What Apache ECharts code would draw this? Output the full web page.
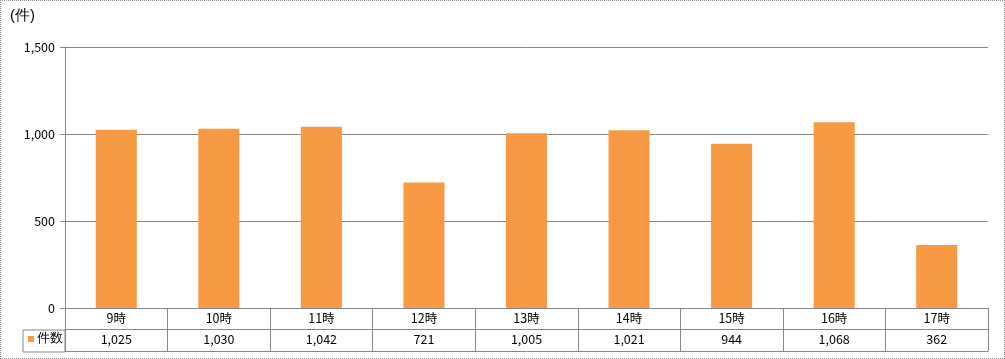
<!DOCTYPE html>
<html><head><meta charset="utf-8">
<script src="https://cdn.jsdelivr.net/npm/echarts@6/dist/echarts.min.js"></script>
<style>
html,body{margin:0;padding:0;background:#fff;}
#c{width:1005px;height:359px;box-sizing:border-box;border:1px dotted #8a8a8a;}
</style></head><body>
<div id="c"></div>
<script>
const categories = ['9時','10時','11時','12時','13時','14時','15時','16時','17時'];
const counts = [1025,1030,1042,721,1005,1021,944,1068,362];
const seriesName = '件数';
const unitLabel = '(件)';
const yTicks = [0,500,1000,1500];

const fmt = v => v.toLocaleString('en-US');
const FONT = '"Noto Sans CJK JP", sans-serif';
const GRID = '#868686';
const BAR = '#F89943';

const chart = echarts.init(document.getElementById('c'), null, {renderer:'canvas'});
chart.setOption({
  animation:false,
  textStyle:{fontFamily:FONT},
  grid:{left:64,right:16,top:46,bottom:50,containLabel:false},
  xAxis:[
    {type:'category',data:categories,position:'bottom',
     axisLine:{show:true,lineStyle:{color:GRID,width:1}},
     axisTick:{show:true,length:43,lineStyle:{color:GRID}},
     axisLabel:{margin:4,fontSize:12.5,color:'#000',fontFamily:FONT}},
    {type:'category',data:counts.map(fmt),position:'bottom',offset:21,
     axisLine:{show:true,lineStyle:{color:GRID,width:1}},
     axisTick:{show:false},
     axisLabel:{margin:4,fontSize:12.5,color:'#000',fontFamily:FONT}},
    {type:'category',data:categories,position:'bottom',offset:43,
     axisLine:{show:true,lineStyle:{color:GRID,width:1}},
     axisTick:{show:false},axisLabel:{show:false}}
  ],
  yAxis:{type:'value',min:yTicks[0],max:yTicks[yTicks.length-1],interval:500,
    axisLine:{show:true,lineStyle:{color:GRID}},
    axisTick:{show:true,length:5,lineStyle:{color:GRID}},
    axisLabel:{margin:10,fontSize:12.5,color:'#000',formatter:v=>fmt(v),fontFamily:FONT},
    splitLine:{show:true,lineStyle:{color:GRID,width:1}}},
  series:[{type:'bar',name:seriesName,data:counts,xAxisIndex:0,barWidth:'40%',
    itemStyle:{color:BAR}}],
  graphic:[
    {type:'text',left:9,top:7,style:{text:unitLabel,fontSize:15,fill:'#000',font:'15px '+FONT}},
    {type:'rect',shape:{x:22,y:329,width:42,height:22},style:{fill:'none',stroke:GRID,lineWidth:1}},
    {type:'rect',shape:{x:27,y:335,width:6,height:6},style:{fill:BAR}},
    {type:'text',left:36,top:331,style:{text:seriesName,fontSize:13,fill:'#000',font:'13px '+FONT}}
  ]
});
</script>
</body></html>
